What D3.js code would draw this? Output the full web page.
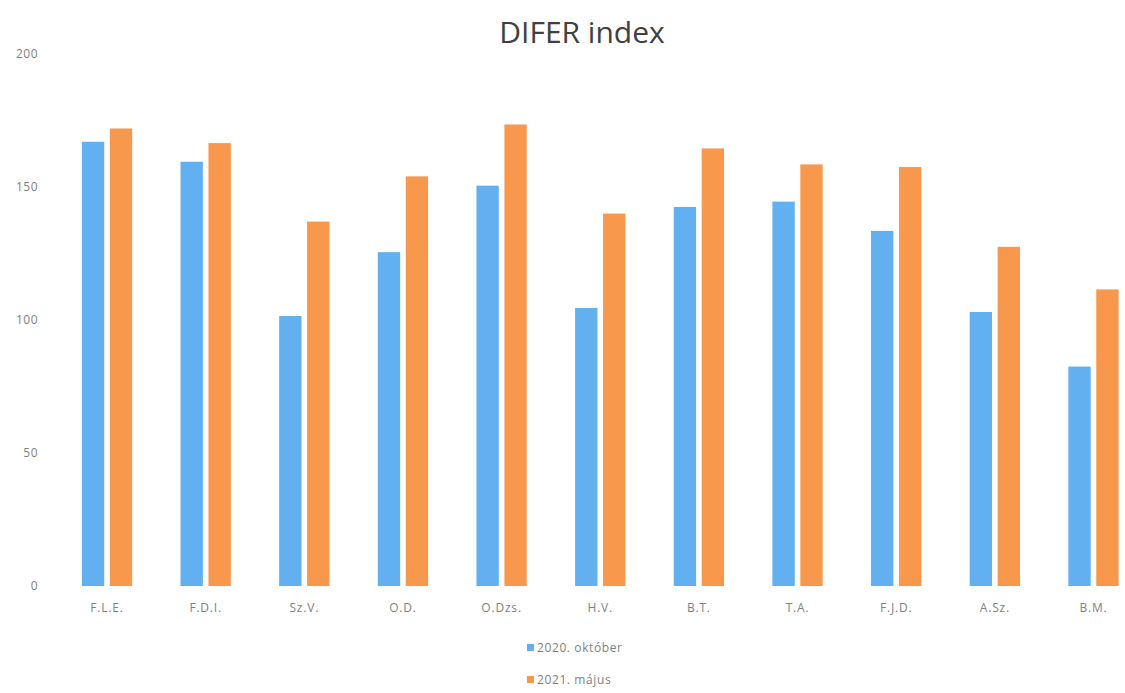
<!DOCTYPE html>
<html>
<head>
<meta charset="utf-8">
<script src="https://cdn.jsdelivr.net/npm/d3@7"></script>
<style>
  html, body { margin: 0; padding: 0; background: #ffffff; }
  svg { display: block; font-family: "Open Sans", "Noto Sans", sans-serif; }
</style>
</head>
<body>
<svg id="chart" width="1125" height="693"></svg>
<script>
const categories = ["F.L.E.", "F.D.I.", "Sz.V.", "O.D.", "O.Dzs.", "H.V.", "B.T.", "T.A.", "F.J.D.", "A.Sz.", "B.M."];
const seriesNames = ["2020. október", "2021. május"];
const values2020 = [167, 159.5, 101.5, 125.5, 150.5, 104.5, 142.5, 144.5, 133.5, 103, 82.5];
const values2021 = [172, 166.5, 137, 154, 173.5, 140, 164.5, 158.5, 157.5, 127.5, 111.5];
const yTicks = [0, 50, 100, 150, 200];
const colors = ["#62b0f0", "#f7984c"];

const svg = d3.select("#chart");
const plotLeft = 57.7, plotRight = 1142.8, plotTop = 54, plotBottom = 586;

const y = d3.scaleLinear().domain([0, 200]).range([plotBottom, plotTop]);
const x0 = d3.scaleBand().domain(categories).range([plotLeft, plotRight])
  .paddingInner(0.49).paddingOuter(0.245);
const x1 = d3.scaleBand().domain(seriesNames).range([0, x0.bandwidth()])
  .paddingInner(0.2).paddingOuter(0);

const data = categories.map((c, i) => ({ cat: c, vals: [values2020[i], values2021[i]] }));

// title
svg.append("text")
  .attr("x", 582).attr("y", 43)
  .attr("text-anchor", "middle")
  .attr("font-size", 30)
  .attr("fill", "#404040")
  .text("DIFER index");

// y axis
const yAxis = d3.axisLeft(y).tickValues(yTicks).tickSize(0).tickPadding(0);
const yg = svg.append("g").attr("transform", "translate(38,0)").call(yAxis);
yg.select(".domain").remove();
yg.selectAll("text").attr("font-size", 12).attr("fill", "#7f7f7f")
  .attr("letter-spacing", 0.5)
  .attr("font-family", "'Open Sans', sans-serif");

// bars
const groups = svg.append("g").selectAll("g").data(data).join("g")
  .attr("transform", d => `translate(${x0(d.cat)},0)`);
groups.selectAll("rect").data(d => d.vals.map((v, j) => ({ s: seriesNames[j], v, j })))
  .join("rect")
  .attr("x", d => x1(d.s))
  .attr("width", x1.bandwidth())
  .attr("y", d => y(d.v))
  .attr("height", d => y(0) - y(d.v))
  .attr("fill", d => colors[d.j]);

// x axis
const xAxis = d3.axisBottom(x0).tickSize(0).tickPadding(0);
const xg = svg.append("g").attr("transform", `translate(0,${plotBottom + 26})`).call(xAxis);
xg.select(".domain").remove();
xg.selectAll("text").attr("font-size", 12).attr("fill", "#7f7f7f")
  .attr("letter-spacing", 0.8)
  .attr("font-family", "'Open Sans', sans-serif").attr("dy", 0);

// legend
const legend = svg.append("g");
seriesNames.forEach((s, i) => {
  const ly = 652 + i * 32;
  legend.append("rect").attr("x", 527).attr("y", ly - 8).attr("width", 7).attr("height", 7)
    .attr("fill", colors[i]);
  legend.append("text").attr("x", 537).attr("y", ly)
    .attr("font-size", 12).attr("letter-spacing", 0.6).attr("fill", "#7f7f7f").text(s);
});
</script>
</body>
</html>
